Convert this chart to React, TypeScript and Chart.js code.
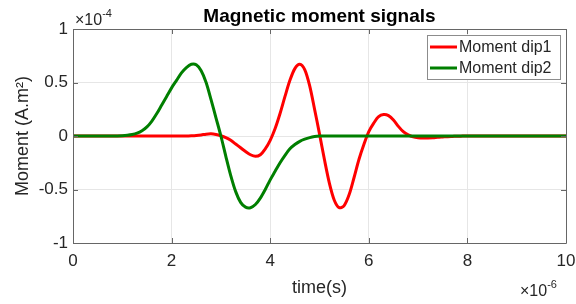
import React, { useEffect, useRef } from "react";
import { Chart, registerables } from "chart.js";

Chart.register(...registerables);

// time axis values, in units of 1e-6 s
const timeValues = [
  0, 0.5, 0.8, 0.9, 1.0, 1.1, 1.2, 1.3, 1.4, 1.5, 1.6, 1.7, 1.8, 1.9,
  2.0, 2.1, 2.2, 2.3, 2.4, 2.5, 2.6, 2.7, 2.8, 2.9,
  3.0, 3.1, 3.2, 3.3, 3.4, 3.5, 3.6, 3.7, 3.8, 3.9,
  4.0, 4.1, 4.2, 4.3, 4.4, 4.5, 4.6, 4.7, 4.8, 4.9,
  5.0, 5.1, 5.2, 5.3, 5.4, 5.5, 5.6, 5.7, 5.8, 5.9,
  6.0, 6.1, 6.2, 6.3, 6.4, 6.5, 6.6, 6.7, 6.8, 6.9,
  7.0, 7.1, 7.2, 7.3, 7.4, 7.5, 7.6, 7.7, 7.8, 7.9,
  8.0, 9.0, 10.0,
];

// Moment dip1, in units of 1e-4 A.m^2
const momentDip1 = [
  0, 0, 0, 0, 0, 0, 0, 0, 0, 0, 0, 0, 0, 0,
  0, 0, 0, 0, 0.002, 0.005, 0.01, 0.017, 0.02, 0.014,
  0.002, -0.015, -0.04, -0.075, -0.11, -0.145, -0.175, -0.19, -0.175, -0.12,
  -0.04, 0.07, 0.21, 0.37, 0.52, 0.63, 0.67, 0.62, 0.47, 0.25,
  0.02, -0.22, -0.44, -0.6, -0.67, -0.65, -0.55, -0.39, -0.22, -0.08,
  0.04, 0.12, 0.18, 0.2, 0.19, 0.15, 0.09, 0.04, 0.01, -0.008,
  -0.016, -0.019, -0.018, -0.016, -0.012, -0.009, -0.006, -0.004, -0.002, -0.001,
  0, 0, 0,
];

// Moment dip2, in units of 1e-4 A.m^2
const momentDip2 = [
  0, 0, 0, 0.001, 0.003, 0.007, 0.014, 0.027, 0.05, 0.085, 0.14, 0.21, 0.29, 0.37,
  0.45, 0.52, 0.59, 0.64, 0.67, 0.665, 0.61, 0.5, 0.34, 0.17,
  0, -0.19, -0.37, -0.52, -0.62, -0.665, -0.67, -0.64, -0.58, -0.5,
  -0.41, -0.33, -0.25, -0.18, -0.12, -0.08, -0.05, -0.03, -0.015, -0.005,
  0, 0, 0, 0, 0, 0, 0, 0, 0, 0,
  0, 0, 0, 0, 0, 0, 0, 0, 0, 0,
  0, 0, 0, 0, 0, 0, 0, 0, 0, 0,
  0, 0, 0,
];

const seriesNames = ["Moment dip1", "Moment dip2"];
const seriesColors = ["#ff0000", "#007f00"];
const chartTitle = "Magnetic moment signals";
const xAxisTitle = "time(s)";
const yAxisTitle = "Moment (A.m²)";
const yExponent = "-4";
const xExponent = "-6";

const FONT = "'Liberation Sans', Arial, Helvetica, sans-serif";
const TEXT = "#262626";

const decorPlugin = {
  id: "decor",
  afterDraw(chart: any) {
    const { ctx, chartArea } = chart;
    const { left, right, top, bottom } = chartArea;
    const xs = chart.scales.x;
    const ys = chart.scales.y;
    ctx.save();
    // box
    ctx.strokeStyle = "#666666";
    ctx.lineWidth = 1;
    ctx.beginPath();
    ctx.rect(Math.round(left) + 0.5, Math.round(top) + 0.5, Math.round(right - left), Math.round(bottom - top));
    ctx.stroke();
    // inward ticks
    const tl = 5;
    ctx.beginPath();
    xs.ticks.forEach((t: any) => {
      const px = Math.round(xs.getPixelForValue(t.value)) + 0.5;
      ctx.moveTo(px, bottom);
      ctx.lineTo(px, bottom - tl);
      ctx.moveTo(px, top);
      ctx.lineTo(px, top + tl);
    });
    ys.ticks.forEach((t: any) => {
      const py = Math.round(ys.getPixelForValue(t.value)) + 0.5;
      ctx.moveTo(left, py);
      ctx.lineTo(left + tl, py);
      ctx.moveTo(right, py);
      ctx.lineTo(right - tl, py);
    });
    ctx.stroke();

    // title
    ctx.fillStyle = "#000000";
    ctx.font = `bold 19px ${FONT}`;
    ctx.textAlign = "center";
    ctx.textBaseline = "alphabetic";
    ctx.fillText(chartTitle, (left + right) / 2, 22);

    // exponent labels
    ctx.fillStyle = TEXT;
    ctx.textAlign = "left";
    const drawExp = (x: number, y: number, exp: string) => {
      ctx.font = `16px ${FONT}`;
      const base = "×10";
      ctx.fillText(base, x, y);
      const w = ctx.measureText(base).width;
      ctx.font = `11px ${FONT}`;
      ctx.fillText(exp, x + w, y - 8);
    };
    drawExp(left + 2, 25, yExponent);
    drawExp(right - 46, 296, xExponent);

    // legend
    const lx = 427, ly = 35, lw = 133, lh = 44;
    ctx.fillStyle = "#ffffff";
    ctx.fillRect(lx, ly, lw, lh);
    ctx.strokeStyle = "#8c8c8c";
    ctx.lineWidth = 1;
    ctx.strokeRect(lx + 0.5, ly + 0.5, lw, lh);
    ctx.font = `16px ${FONT}`;
    ctx.textBaseline = "middle";
    seriesNames.forEach((name, i) => {
      const cy = ly + 12 + i * 21;
      ctx.strokeStyle = seriesColors[i];
      ctx.lineWidth = 3;
      ctx.beginPath();
      ctx.moveTo(lx + 3, cy);
      ctx.lineTo(lx + 30, cy);
      ctx.stroke();
      ctx.fillStyle = TEXT;
      ctx.fillText(name, lx + 32, cy + 1);
    });
    ctx.restore();
  },
};

export default function App() {
  const canvasRef = useRef<HTMLCanvasElement | null>(null);

  useEffect(() => {
    document.body.style.margin = "0";
    const canvas = canvasRef.current;
    if (!canvas) return;
    const mk = (vals: number[]) => timeValues.map((t, i) => ({ x: t, y: vals[i] }));
    const chart = new Chart(canvas, {
      type: "line",
      data: {
        datasets: [
          {
            label: seriesNames[0],
            data: mk(momentDip1),
            borderColor: seriesColors[0],
            borderWidth: 3,
            pointRadius: 0,
            tension: 0.3,
            fill: false,
            order: 1,
          },
          {
            label: seriesNames[1],
            data: mk(momentDip2),
            borderColor: seriesColors[1],
            borderWidth: 3,
            pointRadius: 0,
            tension: 0.3,
            fill: false,
            order: 0,
          },
        ],
      },
      options: {
        animation: false,
        responsive: false,
        maintainAspectRatio: false,
        devicePixelRatio: 1,
        layout: { padding: { left: 0, right: 10, top: 29, bottom: 0 } },
        plugins: {
          legend: { display: false },
          tooltip: { enabled: false },
          title: { display: false },
        },
        scales: {
          x: {
            type: "linear",
            min: 0,
            max: 10,
            ticks: {
              stepSize: 2,
              padding: 8,
              color: TEXT,
              font: { family: FONT, size: 17 },
              maxRotation: 0,
            },
            grid: { color: "#e6e6e6", drawTicks: false },
            border: { display: false },
            title: {
              display: true,
              text: xAxisTitle,
              color: TEXT,
              font: { family: FONT, size: 18 },
              padding: { top: 0, bottom: 5 },
            },
            afterFit: (s: any) => {
              s.height = 61;
              s.paddingLeft = 0;
              s.paddingRight = 0;
            },
          },
          y: {
            type: "linear",
            min: -1,
            max: 1,
            ticks: {
              stepSize: 0.5,
              padding: 5,
              color: TEXT,
              font: { family: FONT, size: 17 },
              callback: (v: any) => String(v),
            },
            grid: { color: "#e6e6e6", drawTicks: false },
            border: { display: false },
            title: {
              display: true,
              text: yAxisTitle,
              color: TEXT,
              font: { family: FONT, size: 18 },
              padding: { top: 12, bottom: 0 },
            },
            afterFit: (s: any) => {
              s.width = 73;
              s.paddingTop = 0;
              s.paddingBottom = 0;
            },
          },
        },
      },
      plugins: [decorPlugin],
    } as any);
    return () => chart.destroy();
  }, []);

  return (
    <div style={{ width: 576, height: 304 }}>
      <canvas ref={canvasRef} width={576} height={304} style={{ display: "block" }} />
    </div>
  );
}
